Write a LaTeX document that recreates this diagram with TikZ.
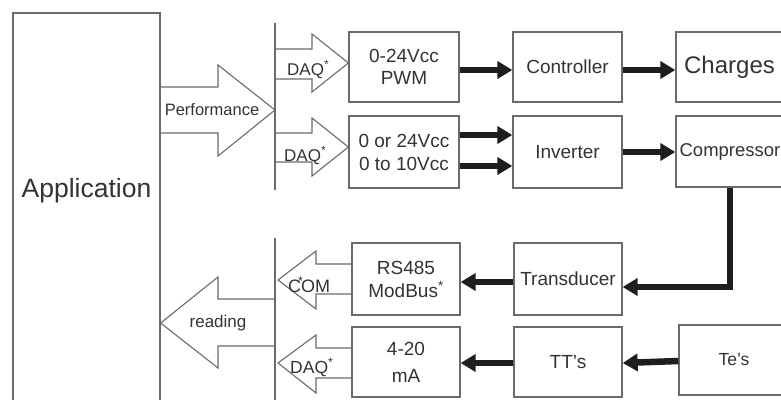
\documentclass[tikz,border=0pt]{standalone}
\usepackage{fontspec}
\setmainfont{Liberation Sans}
\usetikzlibrary{arrows.meta,calc}
\definecolor{edge}{HTML}{6A6A6A}
\definecolor{ink}{HTML}{333333}
\definecolor{fat}{HTML}{1E1E1E}
\begin{document}
\begin{tikzpicture}[x=1pt,y=-1pt,
  box/.style={draw=edge, line width=1.3pt, text=ink, inner sep=0pt, align=center,
              font=\fontsize{19}{22}\selectfont},
  hollow/.style={draw=edge, line width=1.1pt, line join=miter},
  bar/.style={draw=fat, line width=6.5pt, line join=miter,
              -{Triangle[length=15pt,width=17pt]}},
  lbl/.style={text=ink, inner sep=0pt, font=\fontsize{17}{20}\selectfont},
  bus/.style={draw=edge, line width=1.3pt}]
\useasboundingbox (0,0) rectangle (781,399);

% application block
\node[box, minimum width=147pt, minimum height=400pt,
      label={[lbl, font=\fontsize{26.5}{30}\selectfont, yshift=22pt, name=applbl]center:Application}]
      (app) at (86.5,213) {};

% bus lines
\coordinate (busA1) at (275,23);
\coordinate (busA2) at (275,190);
\coordinate (busB1) at (275,238);
\coordinate (busB2) at (275,405);
\draw[bus] (busA1) -- (busA2);
\draw[bus] (busB1) -- (busB2);

% boxes
\node[box, minimum width=110pt, minimum height=70pt] (pwm) at (404,67) {0-24Vcc\\PWM};
\node[box, minimum width=110pt, minimum height=72pt] (vcc) at (404,152) {0 or 24Vcc\\[1pt]0 to 10Vcc};
\node[box, minimum width=109pt, minimum height=70pt] (ctrl) at (567.5,67) {Controller};
\node[box, minimum width=109pt, minimum height=72pt] (inv) at (567.5,152) {Inverter};
\node[box, minimum width=107pt, minimum height=70pt, font=\fontsize{24}{26}\selectfont] (chg) at (729.5,67) {Charges};
\node[box, minimum width=108pt, minimum height=71pt, font=\fontsize{18.5}{22}\selectfont] (cmp) at (730,151.5) {Compressor};
\node[box, minimum width=108pt, minimum height=72pt] (rs) at (406,279) {RS485\\[1pt]ModBus\textsuperscript{*}};
\node[box, minimum width=108pt, minimum height=72pt] (trn) at (568,279) {Transducer};
\node[box, minimum width=108pt, minimum height=70pt] (ma) at (406,362) {4-20\\[5pt]mA};
\node[box, minimum width=108pt, minimum height=70pt] (tts) at (568,362) {TT's};
\node[box, minimum width=110pt, minimum height=70pt, font=\fontsize{17.5}{20}\selectfont] (tes) at (734,360) {Te's};

% hollow block arrows
\draw[hollow] (app.east |- 0,87) -- (218,87) -- (218,65) -- (275,110) -- (218,156) -- (218,133) -- (app.east |- 0,133);
\node[lbl, font=\fontsize{16.5}{20}\selectfont] (perf) at (212,110) {Performance};

\draw[hollow] (busA1 |- 0,49) -- (312,49) -- (312,34) -- (pwm.west |- 0,63) -- (312,92) -- (312,79) -- (busA1 |- 0,79);
\node[lbl, anchor=base west] (daq1) at (287,75) {DAQ\textsuperscript{*}};

\draw[hollow] (busA1 |- 0,133) -- (312,133) -- (312,118) -- (vcc.west |- 0,147) -- (312,176) -- (312,162) -- (busA1 |- 0,162);
\node[lbl, anchor=base west] (daq2) at (284,161) {DAQ\textsuperscript{*}};

\draw[hollow] (rs.west |- 0,264) -- (316,264) -- (316,251) -- (278,280) -- (316,309) -- (316,294) -- (rs.west |- 0,294);
\node[lbl, anchor=base west, font=\fontsize{18}{20}\selectfont] (com) at (288,292) {C\rlap{\kern-3pt\textsuperscript{*}}OM};

\draw[hollow] (ma.west |- 0,348) -- (316,348) -- (316,335) -- (278,363) -- (316,393) -- (316,378) -- (ma.west |- 0,378);
\node[lbl, anchor=base west, font=\fontsize{17.5}{20}\selectfont] (daq3) at (290,373) {DAQ\textsuperscript{*}};

\draw[hollow] (busB1 |- 0,299) -- (218,299) -- (218,277) -- (app.east |- 0,323) -- (218,368) -- (218,346) -- (busB1 |- 0,346);
\node[lbl] (read) at (218,323) {reading};

% thick arrows
\draw[bar] ([yshift=-3pt]pwm.east) -- ([yshift=-3pt]ctrl.west);
\draw[bar] ([yshift=-3pt]ctrl.east) -- ([yshift=-3pt]chg.west);
\draw[bar] ([yshift=17pt]vcc.east) -- ([yshift=17pt]inv.west);
\draw[bar] ([yshift=-14pt]vcc.east) -- ([yshift=-14pt]inv.west);
\draw[bar] (inv.east) -- (inv.east -| cmp.west);
\draw[bar] (cmp.south) |- ([yshift=-8pt]trn.east);
\draw[bar] ([yshift=-3pt]trn.west) -- ([yshift=-3pt]rs.east);
\draw[bar] ([yshift=-1pt]tts.west) -- ([yshift=-1pt]ma.east);
\draw[bar] ([yshift=-1pt]tes.west) -- ([yshift=-1pt]tts.east);
\end{tikzpicture}
\end{document}
